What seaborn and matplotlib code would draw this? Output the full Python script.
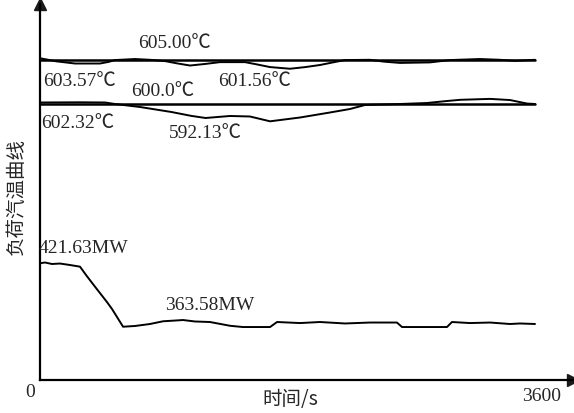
import matplotlib
matplotlib.use("Agg")
import matplotlib.pyplot as plt
import seaborn as sns
import numpy as np
import pandas as pd

# ---------------- data ----------------
x_range = [0, 3600]

# main steam temperature (setpoint 605.00 C)
t1_time = [0, 120, 255, 436, 500, 545, 691, 800, 909, 1000, 1091, 1200, 1309, 1491,
           1580, 1673, 1818, 1930, 2036, 2130, 2218, 2400, 2500, 2618, 2836, 2982,
           3200, 3345, 3455, 3600]
t1_temp = [605.6, 604.4, 603.57, 603.57, 604.2, 604.9, 605.3, 605.0, 604.5, 603.6,
           602.8, 603.4, 604.1, 604.1, 603.2, 602.2, 601.56, 602.2, 603.0, 604.0,
           604.9, 605.0, 604.3, 603.8, 604.0, 604.9, 605.3, 605.0, 604.6, 605.0]
t1_set = [605.0, 605.0]

# reheat steam temperature (setpoint 600.0 C)
t2_time = [0, 291, 473, 545, 727, 956, 1100, 1204, 1382, 1527, 1673, 1891, 2109, 2255,
           2364, 2618, 2814, 2950, 3055, 3273, 3418, 3542, 3600]
t2_temp = [600.68, 600.77, 600.68, 600.0, 598.64, 596.36, 594.6, 593.64, 594.55, 594.32,
           592.13, 593.86, 596.14, 597.73, 599.55, 600.0, 600.45, 601.3, 601.9, 602.32,
           601.8, 600.2, 600.0]
t2_set = [600.0, 600.0]

# unit load
p_time = [0, 36, 87, 145, 218, 291, 335, 385, 436, 487, 524, 560, 604, 691, 800,
          895, 982, 1040, 1127, 1236, 1382, 1476, 1600, 1673, 1724, 1891, 2036,
          2218, 2400, 2596, 2633, 2800, 2960, 2996, 3127, 3273, 3418, 3491, 3600]
p_load = [421.63, 422.4, 420.96, 421.4, 420.0, 418.4, 410.4, 401.8, 393.2, 384.6,
          377.9, 370.3, 361.0, 361.7, 363.6, 366.2, 366.9, 367.4, 366.0, 365.5,
          361.9, 360.7, 360.7, 360.7, 365.5, 364.5, 365.5, 364.1, 365.0, 365.0,
          360.7, 360.7, 360.7, 365.5, 364.5, 365.0, 363.6, 364.1, 363.6]

labels_t = ["605.00℃", "603.57℃", "601.56℃", "600.0℃", "602.32℃", "592.13℃"]
labels_p = ["421.63MW", "363.58MW"]
xlabel = "时间/s"
ylabel = "负荷汽温曲线"
tick_labels = ["0", "3600"]

# ---------------- style ----------------
sns.set_theme(style="white")
plt.rcParams['font.family'] = ['Liberation Serif', 'Noto Sans CJK SC', 'DejaVu Sans']

W, H = 574, 414
fig = plt.figure(figsize=(W / 100, H / 100), dpi=100)

left_px, right_px, bottom_px, top_px = 40, 573, 381, 5
rect = [left_px / W, 1 - bottom_px / H, (right_px - left_px) / W, (bottom_px - top_px) / H]
x_max = 3600 * (right_px - left_px) / (535 - left_px)

ax = fig.add_axes(rect)
ax_t1 = fig.add_axes(rect, sharex=ax)
ax_t2 = fig.add_axes(rect, sharex=ax)
for a in (ax_t1, ax_t2):
    a.set_facecolor("none")
    a.axis("off")

lw_curve = 1.4
lw_set = 1.8

sns.lineplot(x=p_time, y=p_load, ax=ax, color="black", linewidth=lw_curve)
sns.lineplot(x=t1_time, y=t1_temp, ax=ax_t1, color="black", linewidth=lw_curve)
sns.lineplot(x=x_range, y=t1_set, ax=ax_t1, color="black", linewidth=lw_set)
sns.lineplot(x=t2_time, y=t2_temp, ax=ax_t2, color="black", linewidth=lw_curve)
sns.lineplot(x=x_range, y=t2_set, ax=ax_t2, color="black", linewidth=lw_set)

ax.set_xlim(0, x_max)
ax.set_ylim(310.06, 669.53)
ax_t1.set_ylim(481.85, 626.46)
ax_t2.set_ylim(474.55, 645.45)

ax.set_xticks([])
ax.set_yticks([])
ax.set_xlabel("")
ax.set_ylabel("")
for s in ("top", "right"):
    ax.spines[s].set_visible(False)
for s in ("left", "bottom"):
    ax.spines[s].set_color("black")
    ax.spines[s].set_linewidth(1.6)
ax.plot(1, 0, ">k", transform=ax.transAxes, clip_on=False, markersize=8)
ax.plot(0, 1, "^k", transform=ax.transAxes, clip_on=False, markersize=8)

# ---------------- text ----------------
def px_text(x, y, s, size=14, **kw):
    fig.text(x / W, 1 - y / H, s, ha="center", va="center", fontsize=size, **kw)

serif = ['Liberation Serif', 'Noto Sans CJK SC', 'DejaVu Sans']
cjk = ['Noto Sans CJK SC', 'DejaVu Sans']
pos_t = [(175, 43), (80, 82), (255, 82), (163, 92), (78, 124), (205, 133)]
for (x, y), s in zip(pos_t, labels_t):
    px_text(x, y, s, family=serif)
pos_p = [(83, 249), (210, 305)]
for (x, y), s in zip(pos_p, labels_p):
    px_text(x, y, s, family=serif)
px_text(30, 393, tick_labels[0], family=serif)
px_text(542, 397, tick_labels[1], family=serif)
px_text(290, 400, xlabel, size=14, family=cjk)
px_text(16, 197, ylabel, size=14, family=cjk, rotation=90)

fig.savefig("out.png", dpi=100)
